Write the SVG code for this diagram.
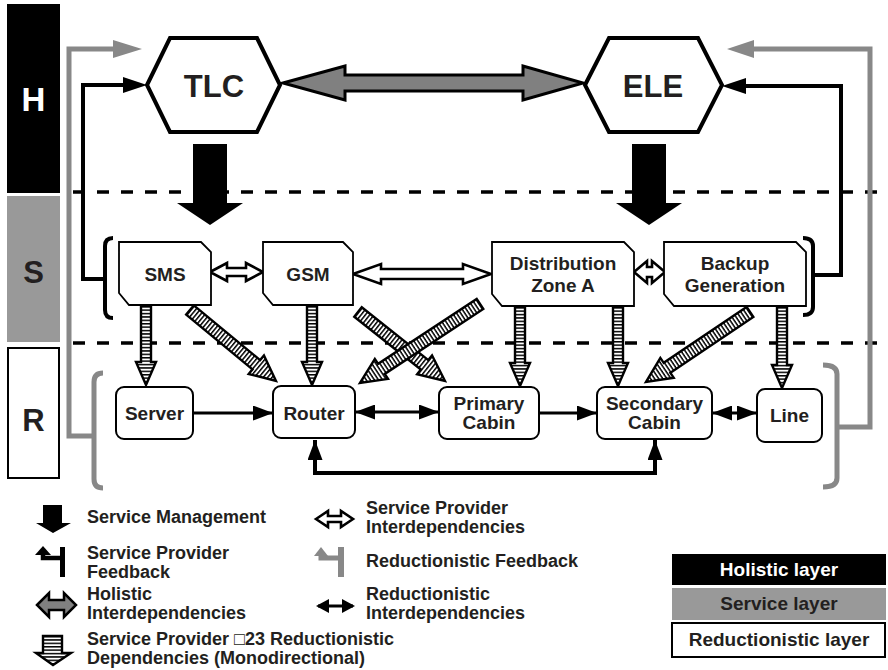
<svg xmlns="http://www.w3.org/2000/svg" width="888" height="670" viewBox="0 0 888 670">
<style>
text{font-family:"Liberation Sans",Arial,sans-serif;font-weight:bold;fill:#231f20}
.c{text-anchor:middle}
.f19{font-size:19px}
.lg{font-size:18px}
.snode{fill:#fff;stroke:#000;stroke-width:1.8}
.rnode{fill:#fff;stroke:#000;stroke-width:2}
.hex{fill:#fff;stroke:#000;stroke-width:4}
.hatch{fill:url(#hp);stroke:#000;stroke-width:2.4;stroke-linejoin:miter}
.spi{fill:#fff;stroke:#000;stroke-width:2.6;stroke-linejoin:miter}
.red{stroke:#000;stroke-width:3;fill:none}
.fb{fill:none;stroke:#000;stroke-width:4}
.gfb{fill:none;stroke:#888;stroke-width:5}
.dash{stroke:#000;stroke-width:3.5;stroke-dasharray:12 12}
</style>
<defs>
<pattern id="hp" patternUnits="userSpaceOnUse" width="8" height="3.4">
<rect width="8" height="3.4" fill="#fff"/>
<rect width="8" height="1.5" fill="#000"/>
</pattern>
<marker id="ah" markerUnits="userSpaceOnUse" markerWidth="20" markerHeight="15" refX="20" refY="7.5" orient="auto-start-reverse">
<path d="M0,0 L20,7.5 L0,15 Z" fill="#000"/>
</marker>
</defs>

<g id="layers">
<rect x="7" y="4" width="53" height="189" fill="#000"/>
<text x="33.5" y="111" class="c" style="font-size:33px;fill:#fff">H</text>
<rect x="7" y="196" width="53" height="146" fill="#999"/>
<text x="33.5" y="283" class="c" style="font-size:31px">S</text>
<rect x="8" y="348" width="51" height="130" fill="#fff" stroke="#000" stroke-width="2"/>
<text x="33.5" y="431" class="c" style="font-size:31px">R</text>
<line class="dash" x1="73" y1="192" x2="888" y2="192"/>
<line class="dash" x1="73" y1="343" x2="888" y2="343"/>
</g>

<g id="connectors">
<polygon points="283,83 345,66 345,75 523,75 523,66 583,83 523,100 523,91 345,91 345,100" fill="#808080" stroke="#000" stroke-width="3" stroke-linejoin="miter"/>
<polygon points="193,144 227,144 227,203 243,203 210,225 177,203 193,203" fill="#000"/>
<polygon points="632,144 666,144 666,203 682,203 649,225 616,203 632,203" fill="#000"/>
<polyline class="fb" points="105,279 83,279 83,85 125,85"/>
<polygon points="123,77 147,85 123,93" fill="#000"/>
<path class="fb" d="M113,238 Q105,238 105,246 L105,310 Q105,318 113,318"/>
<polyline class="fb" points="813,275 841,275 841,86 744,86"/>
<polygon points="746,78 722,86 746,94" fill="#000"/>
<path class="fb" d="M803,238 Q813,238 813,246 L813,307 Q813,315 803,315"/>
<polyline class="gfb" points="94,436 69,436 69,49 115,49"/>
<polygon points="113,40 142,49 113,58" fill="#888"/>
<path class="gfb" d="M103,373 Q94,373 94,382 L94,479 Q94,488 103,488"/>
<polyline class="gfb" points="837,427 870,427 870,49 752,49"/>
<polygon points="754,40 727,49 754,58" fill="#888"/>
<path class="gfb" d="M823,365 Q837,365 837,374 L837,478 Q837,487 823,487"/>
<polygon class="spi" points="210,272 227,263 227,268 246,268 246,263 263,272 246,281 246,276 227,276 227,281"/>
<polygon class="spi" points="353,274 381,264 381,269 463,269 463,264 491,274 463,284 463,279 381,279 381,284"/>
<polygon class="spi" points="634,272 647,261 647,267 652,267 652,261 665,272 652,283 652,277 647,277 647,283"/>
<path class="hatch" transform="translate(146,306)" d="M-5,0 L5,0 L5,56 L10,56 L0,79 L-10,56 L-5,56 Z"/>
<path class="hatch" transform="translate(312,306)" d="M-5,0 L5,0 L5,56 L10,56 L0,79 L-10,56 L-5,56 Z"/>
<path class="hatch" transform="translate(520,307)" d="M-5,0 L5,0 L5,56 L10,56 L0,79 L-10,56 L-5,56 Z"/>
<path class="hatch" transform="translate(618,307)" d="M-5,0 L5,0 L5,56 L10,56 L0,79 L-10,56 L-5,56 Z"/>
<path class="hatch" transform="translate(782,307)" d="M-5,0 L5,0 L5,58 L10,58 L0,81 L-10,58 L-5,58 Z"/>
<path class="hatch" transform="translate(190,310) rotate(-50.46)" d="M-6,0 L6,0 L6,86 L12,86 L0,111.5 L-12,86 L-6,86 Z"/>
<path class="hatch" transform="translate(358,312) rotate(-51.58)" d="M-6,0 L6,0 L6,85 L12,85 L0,111 L-12,85 L-6,85 Z"/>
<path class="hatch" transform="translate(480,304) rotate(56.64)" d="M-6,0 L6,0 L6,118 L12,118 L0,143.7 L-12,118 L-6,118 Z"/>
<path class="hatch" transform="translate(750,312) rotate(56.06)" d="M-6,0 L6,0 L6,100 L12,100 L0,125.4 L-12,100 L-6,100 Z"/>
<line class="red" x1="193" y1="413" x2="273" y2="413" marker-end="url(#ah)"/>
<line class="red" x1="355" y1="412" x2="439" y2="412" marker-start="url(#ah)" marker-end="url(#ah)"/>
<line class="red" x1="539" y1="413" x2="597" y2="413" marker-end="url(#ah)"/>
<line class="red" x1="712" y1="413" x2="757" y2="413" marker-start="url(#ah)" marker-end="url(#ah)"/>
<path class="red" style="stroke-width:4" d="M315,440 L315,473 L655,473 L655,440" marker-start="url(#ah)" marker-end="url(#ah)"/>
</g>

<g id="TLC">
<polygon class="hex" points="147,85 170,38 257,38 280,85 257,132 170,132"/>
<text x="214" y="97" class="c" style="font-size:31px">TLC</text>
</g>
<g id="ELE">
<polygon class="hex" points="585,85 609,38 698,38 722,85 698,132 609,132"/>
<text x="653" y="97" class="c" style="font-size:31px">ELE</text>
</g>

<g id="SMS">
<path class="snode" d="M119,242 L201,242 L211,252 L211,305 L129,305 L119,293 Z"/>
<text x="165" y="281" class="c f19">SMS</text>
</g>
<g id="GSM">
<path class="snode" d="M263,242 L343,242 L353,252 L353,305 L273,305 L263,293 Z"/>
<text x="308" y="281" class="c f19">GSM</text>
</g>
<g id="DistributionZoneA">
<path class="snode" d="M492,242 L624,242 L634,252 L634,306 L502,306 L492,294 Z"/>
<text x="563" y="270" class="c f19">Distribution</text>
<text x="563" y="292" class="c f19">Zone A</text>
</g>
<g id="BackupGeneration">
<path class="snode" d="M664,242 L796,242 L806,252 L806,306 L674,306 L664,294 Z"/>
<text x="735" y="270" class="c f19">Backup</text>
<text x="735" y="292" class="c f19">Generation</text>
</g>

<g id="Server">
<rect class="rnode" x="116" y="387" width="77" height="52" rx="8"/>
<text x="154.5" y="420" class="c f19">Server</text>
</g>
<g id="Router">
<rect class="rnode" x="273" y="386" width="82" height="52" rx="8"/>
<text x="314" y="420" class="c f19">Router</text>
</g>
<g id="PrimaryCabin">
<rect class="rnode" x="439" y="387" width="100" height="52" rx="8"/>
<text x="489" y="410" class="c f19">Primary</text>
<text x="489" y="429" class="c f19">Cabin</text>
</g>
<g id="SecondaryCabin">
<rect class="rnode" x="597" y="387" width="115" height="52" rx="8"/>
<text x="654.5" y="410" class="c f19">Secondary</text>
<text x="654.5" y="429" class="c f19">Cabin</text>
</g>
<g id="Line">
<rect class="rnode" x="757" y="389" width="65" height="53" rx="8"/>
<text x="789.5" y="422" class="c f19">Line</text>
</g>

<g id="legend">
<polygon points="43,505 62,505 62,523 71,523 53,533 36,523 43,523" fill="#000"/>
<text x="87" y="523" class="lg">Service Management</text>

<rect x="60" y="547" width="5" height="30" fill="#000"/>
<polyline points="60,558 43,558 43,553" fill="none" stroke="#000" stroke-width="4.5"/>
<polygon points="35,555 43,546 51,555" fill="#000"/>
<text x="87" y="559" class="lg">Service Provider</text>
<text x="87" y="578" class="lg">Feedback</text>

<polygon points="37,605 49,593 49,600 64,600 64,593 76,605 64,617 64,610 49,610 49,617" fill="#808080" stroke="#000" stroke-width="2.5"/>
<text x="87" y="600" class="lg">Holistic</text>
<text x="87" y="619" class="lg">Interdependencies</text>

<path class="hatch" d="M43,636 L62,636 L62,653 L71,653 L53,665 L36,653 L43,653 Z"/>
<text x="87" y="645" class="lg">Service Provider □23 Reductionistic</text>
<text x="87" y="664" class="lg">Dependencies (Monodirectional)</text>

<polygon class="spi" points="316,519 328,511 328,516 341,516 341,511 353,519 341,527 341,522 328,522 328,527"/>
<text x="366" y="514" class="lg">Service Provider</text>
<text x="366" y="533" class="lg">Interdependencies</text>

<rect x="338" y="547" width="6" height="30" fill="#888"/>
<polyline points="338,558 321,558 321,554" fill="none" stroke="#888" stroke-width="5"/>
<polygon points="314,556 321,547 328,556" fill="#888"/>
<text x="366" y="567" class="lg">Reductionistic Feedback</text>

<line x1="318" y1="606" x2="353" y2="606" stroke="#000" stroke-width="3"/>
<polygon points="316,606 329,599 329,613" fill="#000"/>
<polygon points="355,606 342,599 342,613" fill="#000"/>
<text x="366" y="600" class="lg">Reductionistic</text>
<text x="366" y="619" class="lg">Interdependencies</text>

<rect x="672" y="554" width="214" height="31" fill="#000"/>
<text x="779" y="576" class="c" style="font-size:19px;fill:#fff">Holistic layer</text>
<rect x="672" y="588" width="214" height="32" fill="#999"/>
<text x="779" y="610" class="c" style="font-size:19px">Service layer</text>
<rect x="672" y="623" width="213" height="34" fill="#fff" stroke="#000" stroke-width="2"/>
<text x="779" y="646" class="c" style="font-size:19px">Reductionistic layer</text>
</g>
</svg>
